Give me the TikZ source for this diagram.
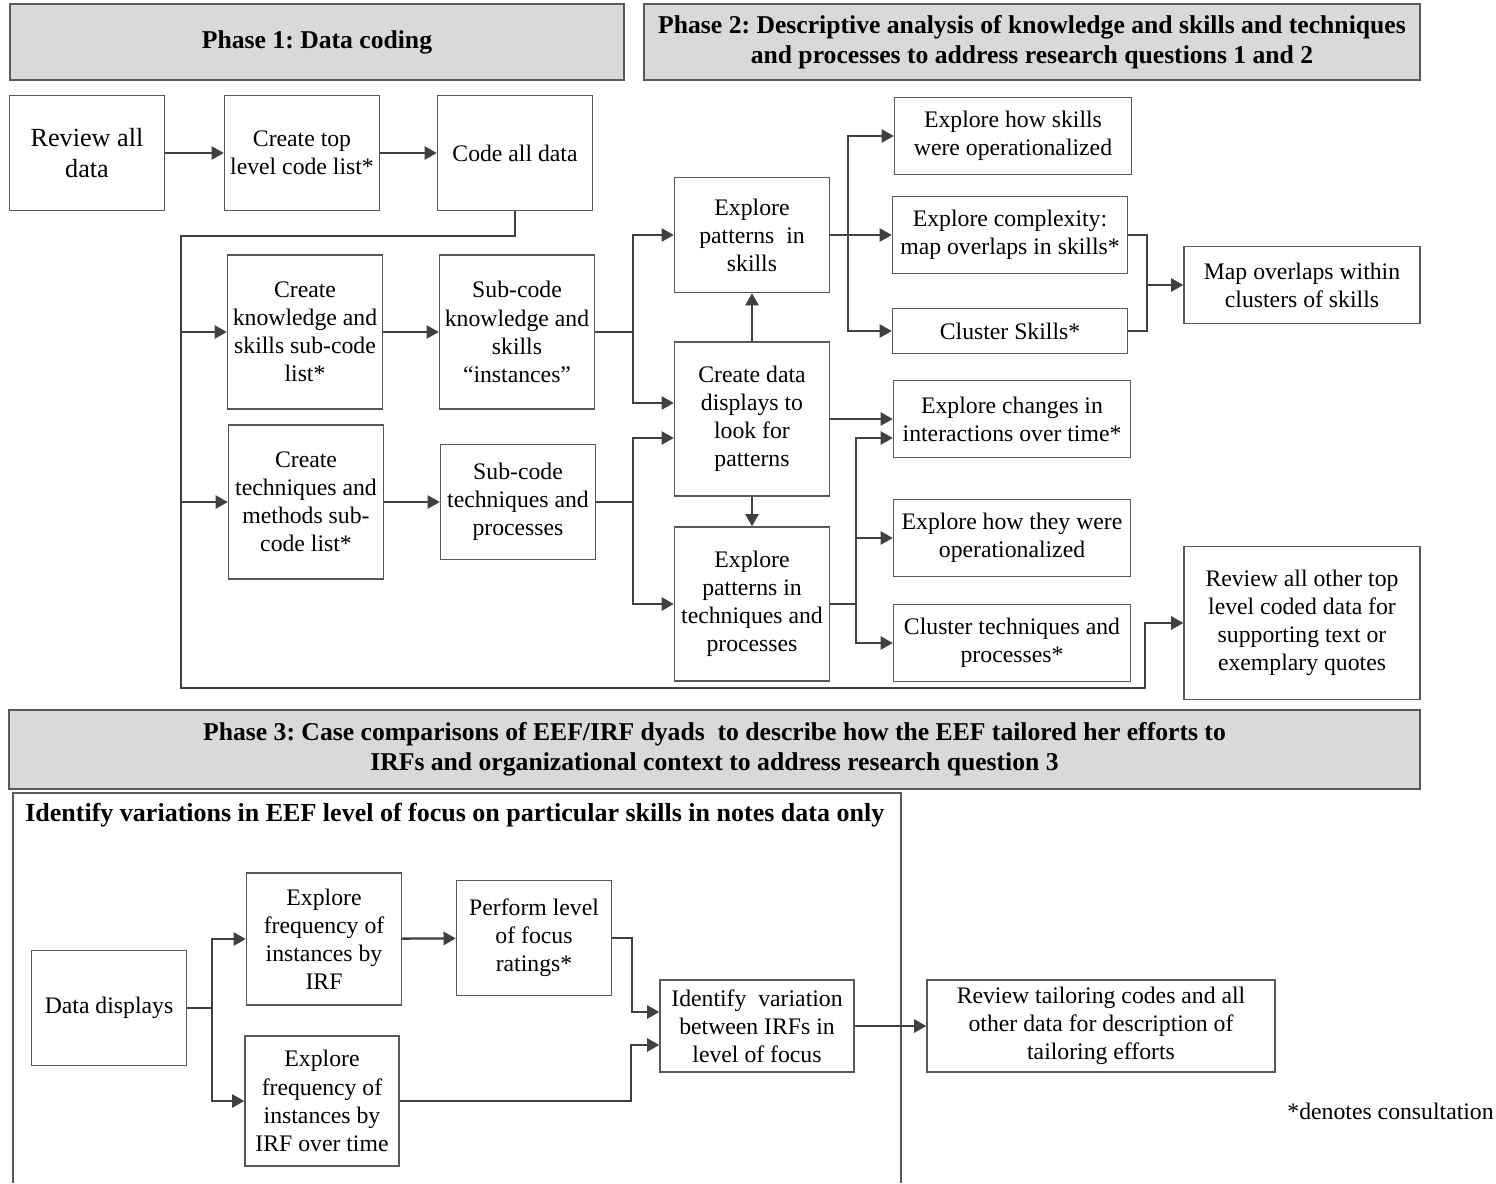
\documentclass[tikz,border=0pt]{standalone}
\usepackage{fontspec}
\setmainfont{Liberation Serif}
\usepackage{tikz}
\usetikzlibrary{arrows.meta,positioning,calc}
\frenchspacing

\definecolor{hdrgray}{HTML}{D9D9D9}
\definecolor{edgegray}{HTML}{595959}
\definecolor{arrgray}{HTML}{404040}

\newcommand\boxfont{\fontsize{13.5}{16}\selectfont}
\newcommand\headfont{\fontsize{14.6}{17}\selectfont\bfseries}

\tikzset{
  box/.style={draw=edgegray, line width=0.8pt, align=center, inner sep=2pt, font=\boxfont},
  sq/.style={box, minimum width=3.1cm, minimum height=2.3cm},
  tall/.style={box, minimum width=3.1cm, minimum height=3.08cm},
  wide/.style={box, minimum width=4.74cm, minimum height=1.54cm},
  header/.style={draw=edgegray, line width=0.9pt, fill=hdrgray, align=center, font=\headfont, minimum height=1.52cm},
  line/.style={draw=arrgray, line width=1.3pt},
  conn/.style={line, -{Triangle[length=7pt,width=7.5pt]}}
}

\begin{document}
\begin{tikzpicture}[x=0.02cm, y=-0.02cm]
    \useasboundingbox (0,0) rectangle (1496,1183);

    % Phase headers
    \node[header, minimum width=12.28cm] (p1) at (317,42) {Phase 1: Data coding};
    \node[header, minimum width=15.52cm] (p2) at (1032,42)
        {Phase 2: Descriptive analysis of knowledge and skills and techniques\\and processes to address research questions 1 and 2};

    % Phase 1
    \node[sq, font=\fontsize{14.9}{17.5}\selectfont] (rev) at (87,153) {Review all\\data};
    \node[sq] (top) at (302,153) {Create top\\level code list*};
    \node[sq] (code) at (515,153) {Code all data};

    % Phase 2
    \node[tall] (kcl) at (305,332) {Create\\knowledge and\\skills sub-code\\list*};
    \node[tall] (ksc) at (517,332) {Sub-code\\knowledge and\\skills\\“instances”};
    \node[tall] (tcl) at (306,502) {Create\\techniques and\\methods sub-\\code list*};
    \node[sq] (tsc) at (518,502) {Sub-code\\techniques and\\processes};
    \node[sq] (eps) at (752,235) {Explore\\patterns~ in\\skills};
    \node[tall] (cdd) at (752,419) {Create data\\displays to\\look for\\patterns};
    \node[tall] (ept) at (752,604) {Explore\\patterns in\\techniques and\\processes};
    \node[wide] (ehs) at (1013,136) {Explore how skills\\were operationalized};
    \node[wide, minimum width=4.7cm] (ecx) at (1010,235) {Explore complexity:\\map overlaps in skills*};
    \node[wide, minimum width=4.7cm, minimum height=0.9cm] (csk) at (1010,331) {Cluster Skills*};
    \node[wide, minimum width=4.72cm] (mov) at (1302,285) {Map overlaps within\\clusters of skills};
    \node[wide] (ech) at (1012,419) {Explore changes in\\interactions over time*};
    \node[wide] (eht) at (1012,538) {Explore how they were\\operationalized};
    \node[wide] (ctp) at (1012,643) {Cluster techniques and\\processes*};
    \node[box, minimum width=4.72cm, minimum height=3.06cm] (roc) at (1302,623)
        {Review all other top\\level coded data for\\supporting text or\\exemplary quotes};

    \coordinate (busTop) at (181,236);
    \coordinate (busBot) at (181,688);
    \coordinate (busR) at (1145,688);

    \draw[conn] (rev) -- (top);
    \draw[conn] (top) -- (code);
    \draw[conn] (code.south) |- (busTop) -- (busBot) -- (busR) |- (roc.west);
    \draw[conn] (busTop |- kcl.west) -- (kcl.west);
    \draw[conn] (busTop |- tcl.west) -- (tcl.west);
    \draw[conn] (kcl) -- (ksc);
    \draw[conn] (tcl) -- (tsc);
    \draw[conn] (ksc.east) -- ++(38,0) |- (eps.west);
    \draw[conn] (ksc.east) -- ++(38,0) |- ($(cdd.west)+(0,-16)$);
    \draw[conn] (tsc.east) -- ++(37,0) |- ($(cdd.west)+(0,19)$);
    \draw[conn] (tsc.east) -- ++(37,0) |- (ept.west);
    \draw[conn] (cdd) -- (eps);
    \draw[conn] (cdd) -- (ept);
    \draw[conn] (eps.east) -- ++(18,0) |- (ehs.west);
    \draw[conn] (eps.east) -- (ecx.west);
    \draw[conn] (eps.east) -- ++(18,0) |- (csk.west);
    \draw[line] (ecx.east) -- ++(19,0) |- (csk.east);
    \draw[conn] ($(ecx.east)+(19,0)$) |- (mov.west);
    \draw[conn] (cdd) -- (ech);
    \draw[conn] (ept.east) -- ++(26,0) |- ($(ech.west)+(0,19)$);
    \draw[conn] (ept.east) -- ++(26,0) |- (eht.west);
    \draw[conn] (ept.east) -- ++(26,0) |- (ctp.west);

    % Phase 3
    \node[header, minimum width=28.22cm, minimum height=1.58cm] (p3) at (714.5,749.5)
        {Phase 3: Case comparisons of EEF/IRF dyads~ to describe how the EEF tailored her efforts to\\IRFs and organizational context to address research question 3};
    \draw[draw=edgegray, line width=0.8pt] (13,1183) |- (901,793) -- (901,1183);
    \node[anchor=west, font=\fontsize{14.8}{17}\selectfont\bfseries, inner sep=0pt] (sub) at (25,815)
        {Identify variations in EEF level of focus on particular skills in notes data only};

    \node[sq] (dd) at (109,1008) {Data displays};
    \node[box, minimum width=3.1cm, minimum height=2.64cm] (efi) at (324,939) {Explore\\frequency of\\instances by\\IRF};
    \node[sq] (plf) at (534,938) {Perform level\\of focus\\ratings*};
    \node[box, minimum width=3.08cm, minimum height=2.6cm] (eft) at (322,1101) {Explore\\frequency of\\instances by\\IRF over time};
    \node[box, minimum width=3.88cm, minimum height=1.84cm] (ivf) at (757,1026) {Identify~ variation\\between IRFs in\\level of focus};
    \node[box, minimum width=6.96cm, minimum height=1.84cm] (rtc) at (1101,1026)
        {Review tailoring codes and all\\other data for description of\\tailoring efforts};
    \node[anchor=east, font=\boxfont, inner sep=0pt] (note) at (1494,1111) {*denotes consultation};

    \draw[conn] (dd.east) -- ++(25,0) |- (efi.west);
    \draw[conn] (dd.east) -- ++(25,0) |- (eft.west);
    \draw[conn] (efi) -- (plf);
    \draw[conn] (plf.east) -- ++(20,0) |- ($(ivf.west)+(0,-14)$);
    \draw[conn] (eft.east) -| ($(ivf.west)+(-28,19)$) -- ($(ivf.west)+(0,19)$);
    \draw[conn] (ivf) -- (rtc);
\end{tikzpicture}
\end{document}
